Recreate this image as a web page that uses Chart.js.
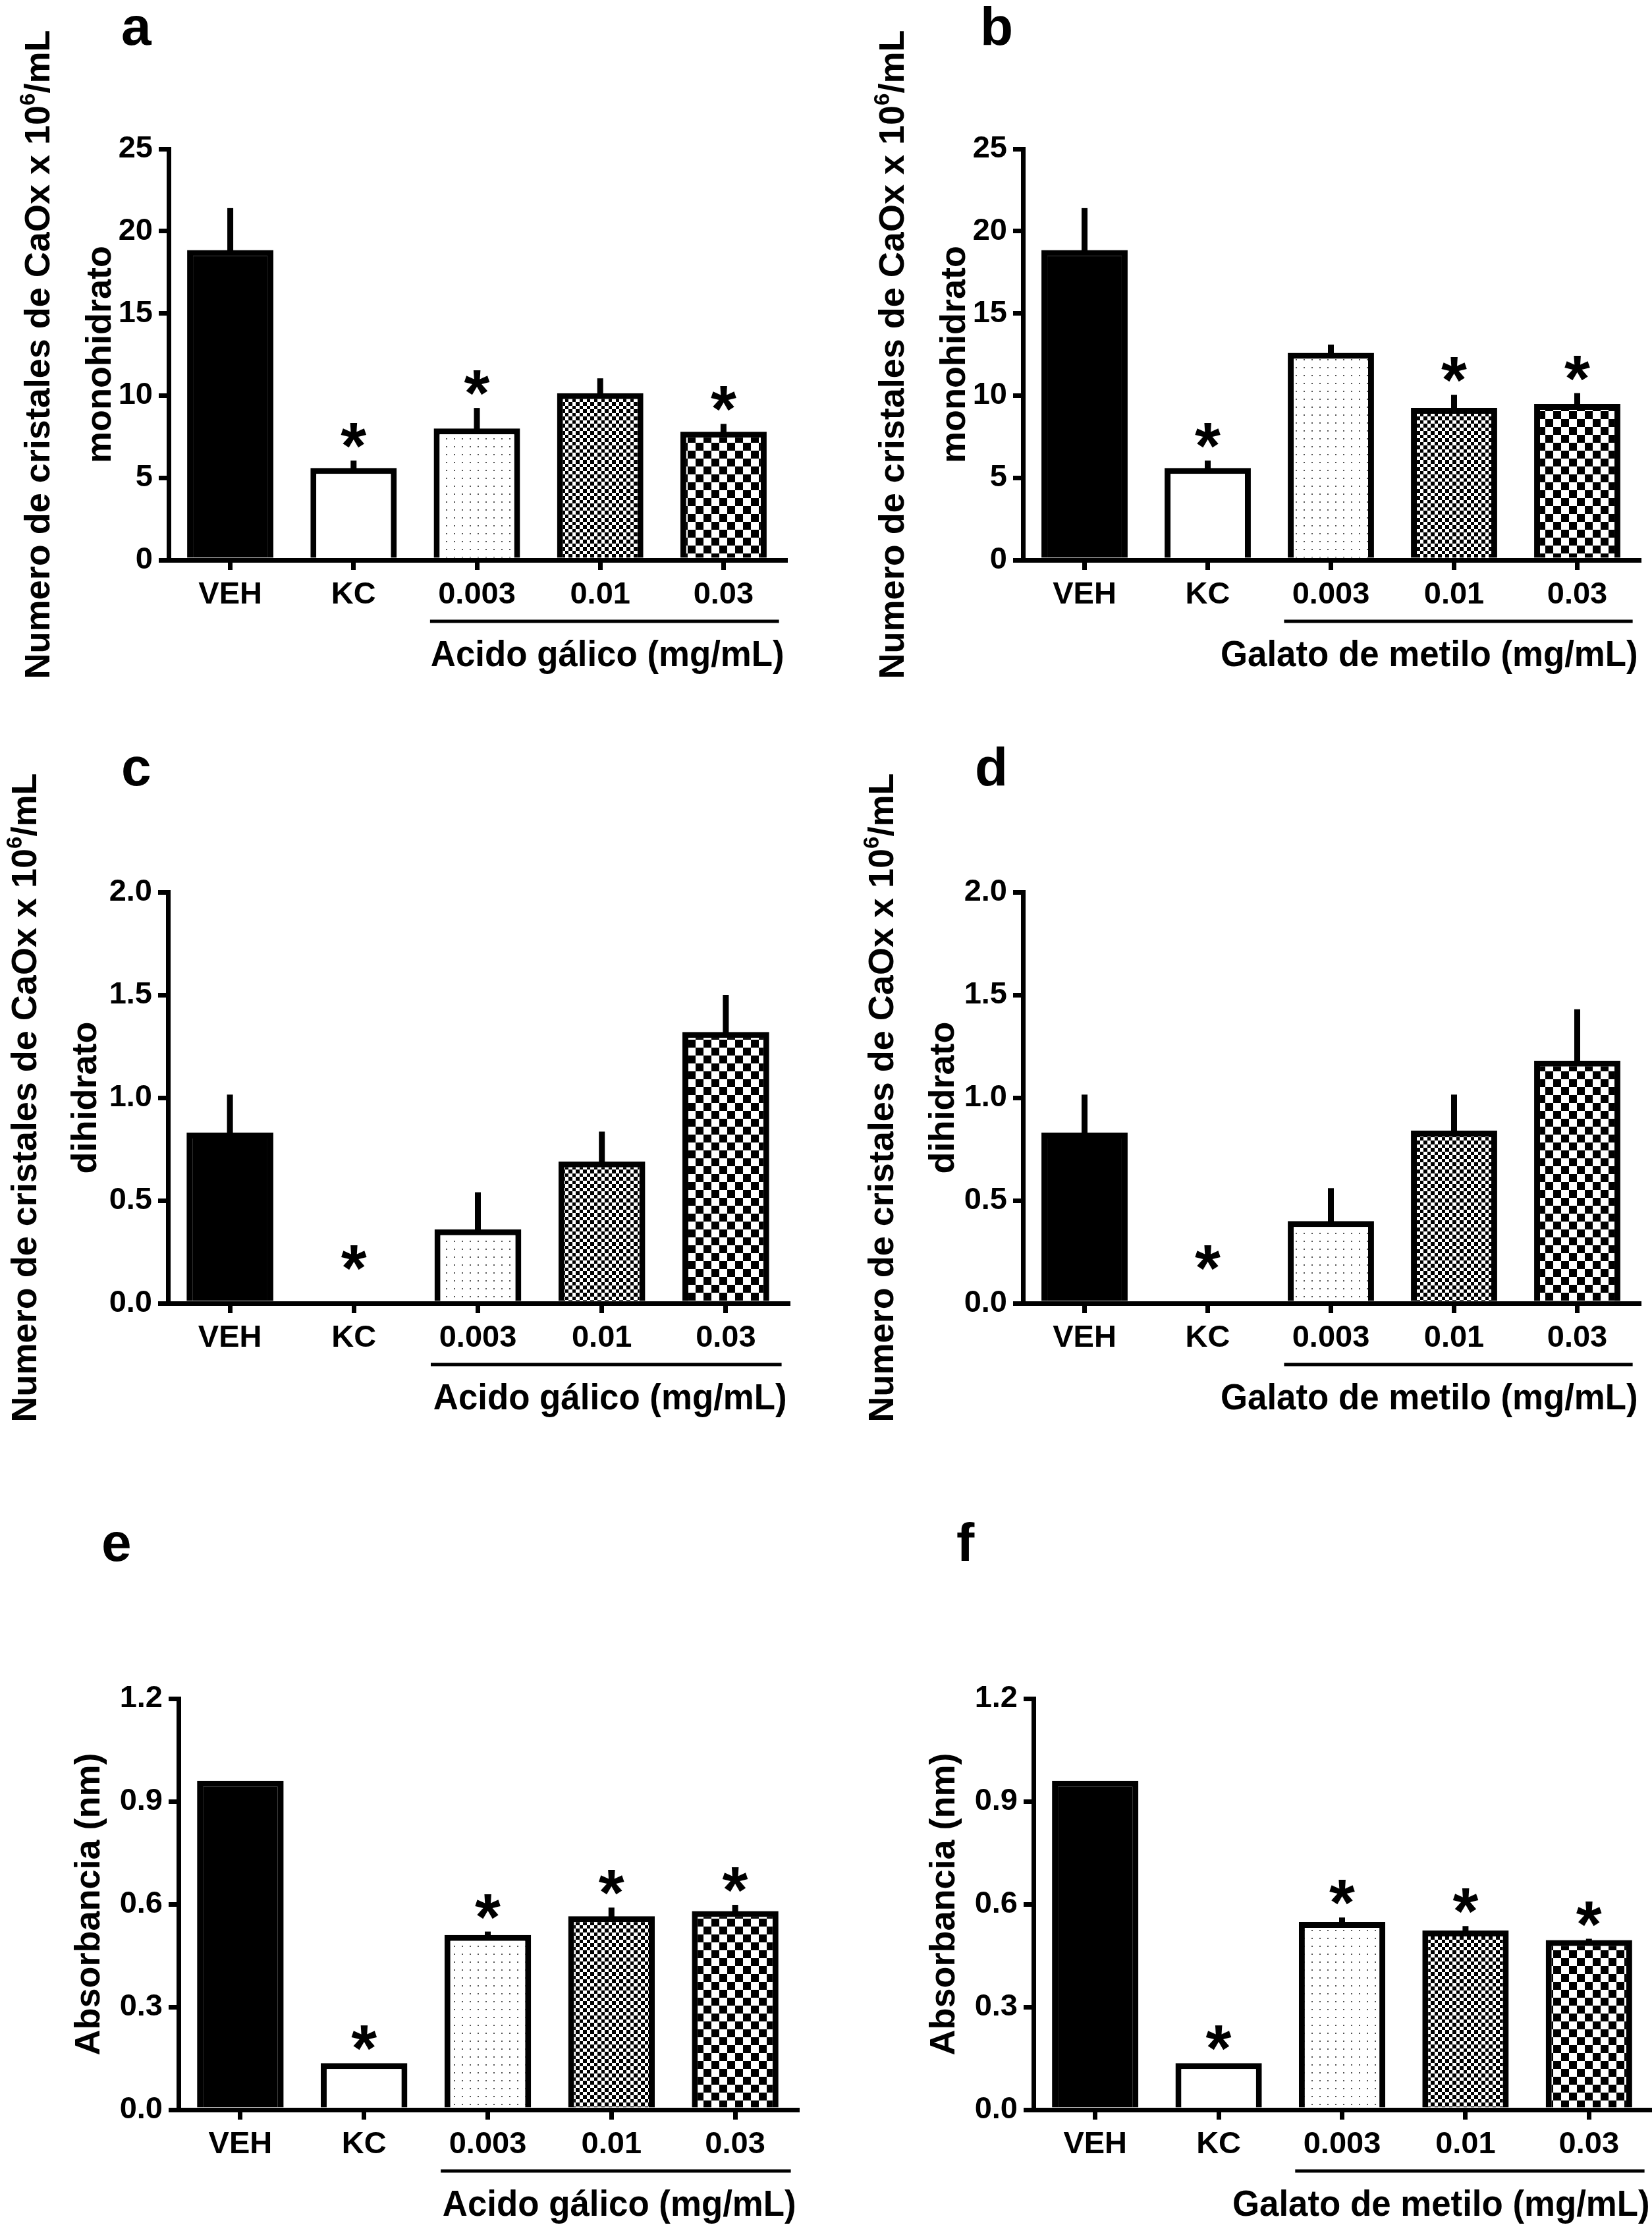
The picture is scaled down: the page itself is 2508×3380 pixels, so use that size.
<!DOCTYPE html>
<html>
<head>
<meta charset="utf-8">
<script src="https://cdn.jsdelivr.net/npm/chart.js@4.4.1/dist/chart.umd.min.js"></script>
<style>
  html, body { margin: 0; padding: 0; background: #fff; }
  #page { position: relative; width: 2508px; height: 3380px; background: #fff; overflow: hidden; }
  #page canvas { position: absolute; }
</style>
</head>
<body>
<div id="page"></div>
<script>
// Crystal counts / absorbance per treatment group

const groups = ['VEH', 'KC', '0.003', '0.01', '0.03'];

// a - monohidrato, acido galico
const monoGalico = [18.85, 5.6, 8.0, 10.15, 7.8];
const monoGalicoSem = [2.55, 0.45, 1.25, 0.9, 0.48];
const monoGalicoSig = [false, true, true, false, true];
// b - monohidrato, galato de metilo
const monoMetilo = [18.85, 5.6, 12.6, 9.25, 9.5];
const monoMetiloSem = [2.55, 0.45, 0.5, 0.8, 0.65];
const monoMetiloSig = [false, true, false, true, true];
// c - dihidrato, acido galico
const diGalico = [0.83, 0, 0.36, 0.69, 1.32];
const diGalicoSem = [0.185, 0, 0.18, 0.145, 0.18];
const diGalicoSig = [false, true, false, false, false];
// d - dihidrato, galato de metilo
const diMetilo = [0.83, 0, 0.40, 0.84, 1.18];
const diMetiloSem = [0.185, 0, 0.16, 0.175, 0.25];
const diMetiloSig = [false, true, false, false, false];
// e - absorbancia, acido galico
const absGalico = [0.96, 0.136, 0.51, 0.565, 0.58];
const absGalicoSem = [0, 0, 0.01, 0.025, 0.018];
const absGalicoSig = [false, true, true, true, true];
// f - absorbancia, galato de metilo
const absMetilo = [0.96, 0.136, 0.548, 0.523, 0.495];
const absMetiloSem = [0, 0, 0.013, 0.013, 0.004];
const absMetiloSig = [false, true, true, true, true];

const ticksMono = [0, 5, 10, 15, 20, 25];
const ticksDi = [0, 0.5, 1.0, 1.5, 2.0];
const ticksAbs = [0, 0.3, 0.6, 0.9, 1.2];

const titleMono = ['Numero de cristales de CaOx x 10⁶/mL', 'monohidrato'];
const titleDi = ['Numero de cristales de CaOx x 10⁶/mL', 'dihidrato'];
const titleAbs = ['Absorbancia (nm)'];
const groupGalico = 'Acido gálico (mg/mL)';
const groupMetilo = 'Galato de metilo (mg/mL)';

const FONT = "'Liberation Sans', Arial, Helvetica, sans-serif";
const LINE = 7;
const BAR_BORDER = 9;

// layout of the six panels, page coordinates
const panels = [
    { letter: 'a', left: 0, top: 0, w: 1254, h: 1060, area: [256, 226, 1192, 850], letterAt: [184, 68],
      values: monoGalico, sem: monoGalicoSem, sig: monoGalicoSig, ticks: ticksMono, decimals: 0,
      title: titleMono, titleOff: [200, 107], group: groupGalico },
    { letter: 'b', left: 1254, top: 0, w: 1254, h: 1060, area: [1553, 226, 2488, 850], letterAt: [1488, 68],
      values: monoMetilo, sem: monoMetiloSem, sig: monoMetiloSig, ticks: ticksMono, decimals: 0,
      title: titleMono, titleOff: [200, 107], group: groupMetilo },
    { letter: 'c', left: 0, top: 1110, w: 1254, h: 1120, area: [255, 1354, 1196, 1978], letterAt: [184, 1192],
      values: diGalico, sem: diGalicoSem, sig: diGalicoSig, ticks: ticksDi, decimals: 1,
      title: titleDi, titleOff: [219, 128], group: groupGalico },
    { letter: 'd', left: 1254, top: 1110, w: 1254, h: 1120, area: [1553, 1354, 2488, 1978], letterAt: [1480, 1192],
      values: diMetilo, sem: diMetiloSem, sig: diMetiloSig, ticks: ticksDi, decimals: 1,
      title: titleDi, titleOff: [216, 124], group: groupMetilo },
    { letter: 'e', left: 0, top: 2240, w: 1254, h: 1140, area: [271, 2578, 1210, 3202], letterAt: [154, 2369],
      values: absGalico, sem: absGalicoSem, sig: absGalicoSig, ticks: ticksAbs, decimals: 1,
      title: titleAbs, titleOff: [139], group: groupGalico },
    { letter: 'f', left: 1254, top: 2240, w: 1254, h: 1140, area: [1569, 2578, 2506, 3202], letterAt: [1452, 2369],
      values: absMetilo, sem: absMetiloSem, sig: absMetiloSig, ticks: ticksAbs, decimals: 1,
      title: titleAbs, titleOff: [139], group: groupMetilo }
];

function makePattern(kind) {
    const t = document.createElement('canvas');
    const c = t.getContext('2d');
    if (kind === 'dots') {
        t.width = 12; t.height = 12;
        c.fillStyle = '#fff'; c.fillRect(0, 0, 12, 12);
        c.fillStyle = '#555'; c.fillRect(5, 5, 2, 2);
    } else if (kind === 'fine') {
        t.width = 11; t.height = 11;
        c.fillStyle = '#fff'; c.fillRect(0, 0, 11, 11);
        c.fillStyle = '#000'; c.fillRect(0, 0, 5, 5); c.fillRect(5, 5, 6, 6);
    } else {
        t.width = 24; t.height = 24;
        c.fillStyle = '#fff'; c.fillRect(0, 0, 24, 24);
        c.fillStyle = '#000'; c.fillRect(0, 0, 12, 12); c.fillRect(12, 12, 12, 12);
    }
    return c.createPattern(t, 'repeat');
}

const SUP = { '⁰': '0', '¹': '1', '²': '2', '³': '3', '⁴': '4', '⁵': '5', '⁶': '6', '⁷': '7', '⁸': '8', '⁹': '9' };

function splitSup(text) {
    const out = [];
    let cur = '';
    for (const ch of text) {
        if (SUP[ch]) {
            if (cur) out.push({ t: cur, sup: false });
            out.push({ t: SUP[ch], sup: true });
            cur = '';
        } else cur += ch;
    }
    if (cur) out.push({ t: cur, sup: false });
    return out;
}

function richWidth(ctx, text, size) {
    let w = 0;
    splitSup(text).forEach(s => {
        ctx.font = `bold ${s.sup ? Math.round(size * 0.62) : size}px ${FONT}`;
        w += ctx.measureText(s.t).width;
    });
    return w;
}

// draws text (superscript digits raised) with the middle of its capitals on yMid
function drawRich(ctx, text, size, x, yMid) {
    ctx.textAlign = 'left';
    ctx.textBaseline = 'alphabetic';
    const base = yMid + size * 0.36;
    splitSup(text).forEach(s => {
        const sz = s.sup ? Math.round(size * 0.62) : size;
        ctx.font = `bold ${sz}px ${FONT}`;
        ctx.fillText(s.t, x, s.sup ? base - size * 0.42 : base);
        x += ctx.measureText(s.t).width;
    });
}

function drawStar(ctx, cx, cy) {
    ctx.font = `bold 100px ${FONT}`;
    let m = ctx.measureText('*');
    const size = Math.round(100 * 38 / (m.actualBoundingBoxAscent + m.actualBoundingBoxDescent));
    ctx.font = `bold ${size}px ${FONT}`;
    m = ctx.measureText('*');
    ctx.textAlign = 'left';
    ctx.textBaseline = 'alphabetic';
    const x = cx - (m.actualBoundingBoxRight + m.actualBoundingBoxLeft) / 2;
    const y = cy + (m.actualBoundingBoxAscent - m.actualBoundingBoxDescent) / 2;
    ctx.fillText('*', x, y);
}

function decor(p) {
    return {
        id: 'decor',
        afterDatasetsDraw(chart) {
            const ctx = chart.ctx;
            const y = chart.scales.y;
            const meta = chart.getDatasetMeta(0);
            ctx.save();
            ctx.strokeStyle = '#000';
            ctx.fillStyle = '#000';
            ctx.lineWidth = BAR_BORDER;
            meta.data.forEach((bar, i) => {
                const v = p.values[i];
                const top = y.getPixelForValue(v + p.sem[i]);
                const base = y.getPixelForValue(v);
                if (base - top > 1) {
                    ctx.beginPath();
                    ctx.moveTo(bar.x, base + 2);
                    ctx.lineTo(bar.x, top);
                    ctx.stroke();
                }
                if (p.sig[i]) {
                    drawStar(ctx, bar.x, top - (v + p.sem[i] > 0 ? 38 : 69));
                }
            });
            ctx.restore();
        },
        afterDraw(chart) {
            const ctx = chart.ctx;
            const area = chart.chartArea;
            const x = chart.scales.x;
            ctx.save();
            ctx.fillStyle = '#000';
            ctx.strokeStyle = '#000';

            // y axis title, rotated
            const midY = (area.top + area.bottom) / 2;
            p.title.forEach((line, k) => {
                ctx.save();
                ctx.translate(area.left - p.titleOff[k], midY);
                ctx.rotate(-Math.PI / 2);
                const w = richWidth(ctx, line, 54);
                drawRich(ctx, line, 54, -w / 2, 0);
                ctx.restore();
            });

            // bracket line under the dose groups and its label
            const cat = x.getPixelForValue(1) - x.getPixelForValue(0);
            const x0 = x.getPixelForValue(2) - cat * 0.38;
            const x1 = x.getPixelForValue(4) + cat * 0.45;
            const ly = area.bottom + 93;
            ctx.lineWidth = 5;
            ctx.beginPath();
            ctx.moveTo(x0, ly);
            ctx.lineTo(x1, ly);
            ctx.stroke();
            const gs = 0.96;
            ctx.save();
            ctx.translate(x1 + 8, area.bottom + 141);
            ctx.scale(gs, 1);
            const gw = richWidth(ctx, p.group, 55);
            drawRich(ctx, p.group, 55, -gw, 0);
            ctx.restore();

            // panel letter
            ctx.font = `bold 82px ${FONT}`;
            ctx.textAlign = 'left';
            ctx.textBaseline = 'alphabetic';
            ctx.fillText(p.letter, p.letterAt[0] - p.left, p.letterAt[1] - p.top);
            ctx.restore();
        }
    };
}

const page = document.getElementById('page');

panels.forEach(p => {
    const canvas = document.createElement('canvas');
    canvas.width = p.w;
    canvas.height = p.h;
    canvas.style.left = p.left + 'px';
    canvas.style.top = p.top + 'px';
    canvas.style.width = p.w + 'px';
    canvas.style.height = p.h + 'px';
    page.appendChild(canvas);

    const areaLeft = p.area[0] - p.left;
    const areaTop = p.area[1] - p.top;
    const areaRight = p.area[2] - p.left;
    const areaBottom = p.area[3] - p.top;

    const ctx = canvas.getContext('2d');
    const fills = ['#000', '#fff', makePattern('dots'), makePattern('fine'), makePattern('coarse')];
    const tickFont = { family: FONT, size: 47, weight: 'bold' };
    const grid = {
        offset: false,
        drawOnChartArea: false,
        drawTicks: true,
        tickLength: 15,
        tickWidth: LINE,
        lineWidth: LINE,
        color: '#000',
        tickColor: '#000'
    };

    new Chart(ctx, {
        type: 'bar',
        data: {
            labels: groups,
            datasets: [{
                data: p.values,
                backgroundColor: fills,
                borderColor: '#000',
                borderWidth: BAR_BORDER,
                borderSkipped: 'start',
                barPercentage: 0.7,
                categoryPercentage: 1
            }]
        },
        options: {
            responsive: false,
            animation: false,
            devicePixelRatio: 1,
            events: [],
            layout: { padding: { left: 0, top: areaTop, right: p.w - areaRight, bottom: 0 } },
            plugins: { legend: { display: false }, tooltip: { enabled: false } },
            scales: {
                x: {
                    offset: true,
                    z: 1,
                    grid: grid,
                    border: { display: true, color: '#000', width: LINE },
                    ticks: { color: '#000', font: tickFont, padding: 10, maxRotation: 0, autoSkip: false },
                    afterFit: s => { s.height = p.h - areaBottom; }
                },
                y: {
                    min: 0,
                    max: p.ticks[p.ticks.length - 1],
                    grid: grid,
                    border: { display: true, color: '#000', width: LINE },
                    afterBuildTicks: s => { s.ticks = p.ticks.map(v => ({ value: v })); },
                    ticks: {
                        color: '#000',
                        font: tickFont,
                        padding: 9,
                        callback: v => Number(v).toFixed(p.decimals)
                    },
                    afterFit: s => { s.width = areaLeft; }
                }
            }
        },
        plugins: [decor(p)]
    });
});
</script>
</body>
</html>
